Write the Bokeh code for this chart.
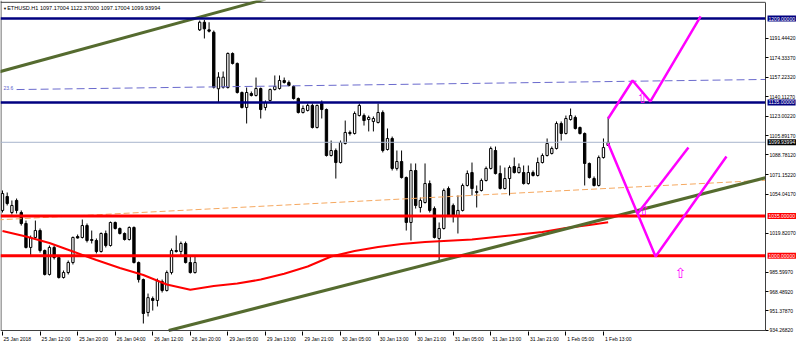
from bokeh.plotting import figure
from bokeh.models import Range1d, FixedTicker, Label
from bokeh.core.properties import value
from bokeh.embed import file_html
from bokeh.resources import INLINE

# ---------------- data ----------------
symbol_title = "ETHUSD.H1  1097.17004 1122.37000 1097.17004 1099.93994"

opens = [
    1039.9, 1052.2, 1038.1, 1048.7, 1038.1, 1028.4, 1007.3, 1016.1, 1022.2, 1004.6,
    983.5, 1007.3, 998.4, 980.8, 985.2, 994.0, 1016.9, 1016.1, 1026.6, 1013.4,
    1013.4, 1003.7, 1019.6, 1009.0, 1029.3, 1024.0, 1019.6, 1014.3, 1024.9, 994.0,
    979.0, 950.0, 962.3, 960.6, 977.3, 969.4, 985.2, 1004.6, 1003.7, 1010.8,
    994.0, 985.2, 1199.0, 1205.7, 1199.0, 1196.9, 1147.1, 1148.5, 1148.2, 1178.2,
    1169.4, 1143.8, 1130.6, 1142.9, 1141.2, 1147.3, 1130.6, 1136.8, 1146.4, 1147.3,
    1154.4, 1152.6, 1149.1, 1138.5, 1126.2, 1128.0, 1132.4, 1113.0, 1134.1, 1128.8,
    1088.3, 1092.7, 1082.1, 1098.9, 1108.6, 1107.7, 1123.5, 1123.5, 1120.0, 1118.3,
    1117.4, 1126.2, 1093.6, 1103.3, 1076.9, 1083.0, 1068.9, 1029.3, 1075.1, 1042.5,
    1046.9, 1063.6, 1041.6, 1015.2, 1024.0, 1059.2, 1044.3, 1035.4, 1039.9, 1061.9,
    1073.3, 1055.7, 1057.5, 1066.3, 1076.9, 1092.7, 1072.4, 1059.2, 1068.0, 1078.6,
    1073.3, 1073.3, 1063.6, 1073.3, 1070.7, 1082.1, 1088.3, 1090.1, 1094.5, 1116.5,
    1107.7, 1120.0, 1121.8, 1113.0, 1107.7, 1081.3, 1068.0, 1061.9, 1086.5, 1097.17,
]
highs = [
    1057.5, 1055.7, 1048.7, 1050.4, 1039.9, 1031.0, 1017.8, 1031.0, 1024.0, 1005.5,
    1009.0, 1009.0, 1000.2, 987.0, 995.8, 1016.9, 1018.7, 1031.9, 1028.4, 1022.2,
    1015.2, 1020.5, 1022.2, 1030.1, 1030.1, 1024.9, 1020.5, 1025.8, 1025.8, 994.9,
    979.9, 966.7, 964.1, 979.9, 979.0, 987.0, 1006.4, 1017.8, 1012.5, 1012.5,
    1000.2, 999.3, 1207.2, 1207.7, 1205.7, 1198.4, 1161.7, 1162.3, 1179.1, 1179.1,
    1170.2, 1144.7, 1148.2, 1144.7, 1157.0, 1148.2, 1136.8, 1147.3, 1158.8, 1158.8,
    1157.0, 1154.4, 1150.0, 1139.4, 1132.4, 1134.1, 1134.1, 1133.2, 1136.8, 1129.7,
    1101.5, 1094.5, 1101.5, 1119.1, 1110.3, 1127.1, 1134.1, 1125.3, 1123.5, 1122.7,
    1134.1, 1128.0, 1112.1, 1105.0, 1092.7, 1092.7, 1069.8, 1081.3, 1081.3, 1051.3,
    1081.3, 1066.3, 1043.4, 1029.3, 1059.2, 1061.0, 1046.0, 1053.1, 1063.6, 1075.1,
    1082.1, 1061.9, 1068.0, 1078.6, 1096.2, 1096.2, 1079.5, 1077.7, 1079.5, 1086.5,
    1081.3, 1079.5, 1079.5, 1075.1, 1086.5, 1090.1, 1103.3, 1096.2, 1118.3, 1118.3,
    1123.5, 1129.7, 1123.5, 1113.8, 1108.6, 1082.1, 1069.8, 1088.3, 1103.3, 1122.37,
]
lows = [
    1038.1, 1044.3, 1036.3, 1037.2, 1026.6, 1006.4, 999.3, 1015.2, 1002.8, 982.6,
    982.6, 996.7, 979.9, 979.9, 983.5, 992.3, 1015.2, 1015.2, 1011.7, 1010.8,
    1002.0, 1002.8, 1007.3, 1008.1, 1023.1, 1018.7, 1013.4, 1013.4, 993.2, 976.4,
    940.3, 946.5, 951.7, 955.3, 967.6, 968.5, 983.5, 1002.8, 1000.2, 993.2,
    984.3, 984.3, 1198.0, 1191.4, 1196.7, 1147.3, 1135.3, 1147.3, 1147.3, 1168.5,
    1142.9, 1129.7, 1116.5, 1140.3, 1140.3, 1120.9, 1128.0, 1135.9, 1145.6, 1146.4,
    1151.7, 1149.1, 1137.6, 1125.3, 1125.3, 1127.1, 1112.1, 1112.1, 1120.9, 1087.4,
    1087.4, 1068.0, 1081.3, 1098.0, 1105.9, 1106.8, 1122.7, 1114.7, 1109.5, 1109.5,
    1116.5, 1091.0, 1092.7, 1075.1, 1075.1, 1068.0, 1022.2, 1013.4, 1041.6, 1038.1,
    1046.0, 1038.1, 1015.2, 995.8, 1023.1, 1034.6, 1029.3, 1019.6, 1039.0, 1061.0,
    1053.1, 1042.5, 1056.6, 1065.4, 1076.0, 1071.6, 1058.4, 1058.4, 1053.1, 1072.4,
    1072.4, 1062.7, 1062.7, 1069.8, 1069.8, 1081.3, 1087.4, 1089.2, 1093.6, 1101.5,
    1106.8, 1119.1, 1111.2, 1106.8, 1061.9, 1068.0, 1061.0, 1061.0, 1085.6, 1097.17,
]
closes = [
    1054.8, 1046.0, 1044.3, 1039.9, 1028.4, 1007.3, 1016.1, 1022.2, 1004.6, 983.5,
    1007.3, 998.4, 980.8, 985.2, 994.0, 1016.1, 1015.6, 1026.6, 1013.4, 1014.3,
    1003.7, 1019.6, 1009.0, 1029.3, 1024.0, 1019.6, 1014.3, 1024.9, 994.0, 979.0,
    949.1, 963.1, 960.6, 978.2, 969.4, 985.2, 1004.6, 1003.7, 1010.8, 994.0,
    985.2, 994.0, 1205.7, 1199.9, 1197.8, 1148.5, 1157.3, 1157.3, 1178.2, 1169.4,
    1143.8, 1130.6, 1143.8, 1141.2, 1147.3, 1128.8, 1135.0, 1146.4, 1149.1, 1154.4,
    1152.6, 1150.0, 1138.5, 1126.2, 1129.7, 1132.4, 1113.0, 1132.4, 1128.8, 1088.3,
    1092.7, 1082.1, 1099.8, 1108.6, 1107.7, 1125.3, 1132.4, 1119.1, 1121.8, 1120.9,
    1126.2, 1092.7, 1103.3, 1076.9, 1083.0, 1068.9, 1029.3, 1075.1, 1044.3, 1048.7,
    1063.6, 1039.9, 1016.1, 1024.0, 1057.5, 1035.4, 1035.4, 1039.9, 1061.9, 1072.4,
    1059.2, 1056.6, 1066.3, 1076.9, 1094.5, 1072.4, 1059.2, 1068.0, 1077.7, 1073.3,
    1077.7, 1063.6, 1073.3, 1070.7, 1082.1, 1088.3, 1098.9, 1094.5, 1116.5, 1107.7,
    1120.9, 1123.5, 1112.1, 1107.7, 1081.3, 1068.9, 1061.9, 1086.5, 1095.3, 1099.94,
]

# moving average (red curve), sampled at bar indices
ma_bars = [0, 5, 10, 15, 20, 25, 30, 35, 40, 45, 50, 55, 60, 65, 70, 75, 80, 85,
           90, 95, 100, 105, 110, 115, 120, 125, 129]
ma_vals = [1021.8, 1016.9, 1011.2, 1003.7, 996.2, 989.2, 983.0, 974.7, 970.0, 973.3,
           975.5, 979.0, 984.1, 990.5, 999.3, 1004.2, 1007.7, 1010.3, 1012.1, 1013.2,
           1014.3, 1016.5, 1018.7, 1020.9, 1024.4, 1027.1, 1029.5]

# time axis labels (bar index -> text)
xlab_bars = [0, 8, 16, 24, 32, 40, 48, 56, 64, 72, 80, 88, 96, 104, 112, 120, 128]
xlab_text = ["25 Jan 2018", "25 Jan 12:00", "25 Jan 20:00", "26 Jan 04:00", "26 Jan 12:00",
             "26 Jan 20:00", "29 Jan 05:00", "29 Jan 13:00", "29 Jan 21:00", "30 Jan 05:00",
             "30 Jan 13:00", "30 Jan 21:00", "31 Jan 05:00", "31 Jan 13:00", "31 Jan 21:00",
             "1 Feb 05:00", "1 Feb 13:00"]

# price axis labels
ytick_vals = [1191.4442, 1174.3337, 1157.2232, 1140.1127, 1123.0022, 1105.8917, 1088.7812,
              1071.1522, 1054.0417, 1019.8207, 985.5997, 968.4892, 951.3787, 934.2682]

# horizontal levels
navy_levels = [1209.0, 1135.0]
red_levels = [1035.0, 1000.0]
current_price = 1099.93994

# highlighted price tags on the axis
tag_vals = [1209.0, 1135.0, 1099.93994, 1035.0, 1000.0]
tag_bg = ["#000080", "#000080", "#000000", "#ff0000", "#ff0000"]

# trend lines (bar index, price)
olive_up_x = [-1, 56]
olive_up_y = [1161.65, 1226.04]
olive_low_x = [35.4, 162.5]
olive_low_y = [934.13, 1068.7]
orange_x = [-1, 162.5]
orange_y = [1031.6, 1066.5]
fib_x = [3, 162.5]
fib_y = [1146.4, 1155.3]
fib_text = "23.6"
fib_text_pos = (0.2, 1148.2)

# magenta projections
mag_up_x = [129, 134.2, 138.0, 148.7]
mag_up_y = [1120.9, 1154.4, 1135.9, 1210.8]
mag_dn_x = [129, 139.1, 154.2]
mag_dn_y = [1098.9, 999.3, 1087.4]
mag_mid_x = [135.3, 146.1]
mag_mid_y = [1037.2, 1095.4]
arrow_x = [136.3, 136.6, 144.4]
arrow_y = [1139.4, 1039.9, 985.2]

# ---------------- layout ----------------
BAR_PX = 4.695          # pixels per bar
X_LEFT = -0.426         # left edge of the chart (bar units)
CHART_RIGHT = 162.5     # right edge of the chart area / price scale position
X_RIGHT = 169.97        # right edge of the window (bar units)
CHART_BOTTOM = 934.13   # bottom edge of the chart area / time scale position
Y_BOTTOM, Y_TOP = 921.80, 1224.86
FONT = "Liberation Sans"

p = figure(width=800, height=344, output_backend="svg", toolbar_location=None,
           x_range=Range1d(X_LEFT, X_RIGHT), y_range=Range1d(Y_BOTTOM, Y_TOP),
           y_axis_location="right", min_border_left=0, min_border_top=0,
           min_border_right=0, min_border_bottom=0)
p.grid.visible = False
p.background_fill_color = "white"
p.border_fill_color = "white"
p.outline_line_color = None

# chart frame (top and left edges)
p.segment(x0=[X_LEFT, X_LEFT + 0.1], y0=[Y_TOP - 1.6, Y_TOP], x1=[CHART_RIGHT, X_LEFT + 0.1],
          y1=[Y_TOP - 1.6, CHART_BOTTOM], line_color="#404040", line_width=1)

# candles
idx = list(range(len(opens)))
p.segment(x0=idx, y0=lows, x1=idx, y1=highs, line_color="black", line_width=1)
tops = [max(o, c) for o, c in zip(opens, closes)]
bots = [min(o, c) for o, c in zip(opens, closes)]
fills = ["white" if c >= o else "black" for o, c in zip(opens, closes)]
p.vbar(x=idx, width=0.5, top=tops, bottom=bots, fill_color=fills, line_color="black", line_width=1)

# moving average
p.line(ma_bars, ma_vals, line_color="#ff0000", line_width=2)

# trend lines
p.line(orange_x, orange_y, line_color="#f5a860", line_width=1, line_dash="6 3")
p.line(fib_x, fib_y, line_color="#6a6acd", line_width=1, line_dash="8 4")
p.line(olive_up_x, olive_up_y, line_color="#556b2f", line_width=3)
p.line(olive_low_x, olive_low_y, line_color="#556b2f", line_width=3)

# levels
n_nv, n_rd = len(navy_levels), len(red_levels)
p.segment(x0=[X_LEFT] * n_nv, x1=[CHART_RIGHT] * n_nv, y0=navy_levels, y1=navy_levels,
          line_color="#000080", line_width=2.5)
p.segment(x0=[X_LEFT] * n_rd, x1=[CHART_RIGHT] * n_rd, y0=red_levels, y1=red_levels,
          line_color="#ff0000", line_width=3)
p.segment(x0=[X_LEFT], x1=[CHART_RIGHT], y0=[current_price], y1=[current_price],
          line_color="#a7b4cc", line_width=1)

# magenta projections
p.line(mag_up_x, mag_up_y, line_color="#ff00ff", line_width=2.5)
p.line(mag_dn_x, mag_dn_y, line_color="#ff00ff", line_width=2.5)
p.line(mag_mid_x, mag_mid_y, line_color="#ff00ff", line_width=2.5)
p.text(x=arrow_x, y=arrow_y, text=["\u21e7"] * len(arrow_x), text_color="#ff00ff",
       text_font=value("DejaVu Sans"), text_font_size="14px",
       text_align="center", text_baseline="middle")

# texts inside chart
p.text(x=[fib_text_pos[0]], y=[fib_text_pos[1]], text=[fib_text], text_color="#5a5acd",
       text_font=value(FONT), text_font_size="5px", text_baseline="middle")
p.add_layout(Label(x=0.1, y=1217.9, text="\u25bc", text_font=FONT, text_font_size="4px",
                   text_baseline="middle", text_color="black"))
p.add_layout(Label(x=1.0, y=1217.9, text=symbol_title, text_font=FONT, text_font_size="5.5px",
                   text_baseline="middle", text_color="black"))

# x axis (time scale), fixed at the bottom edge of the chart area
xa = p.xaxis[0]
xa.fixed_location = CHART_BOTTOM
centers = [b + (1.5 + 2.42 * len(t) / 2) / BAR_PX for b, t in zip(xlab_bars, xlab_text)]
xa.ticker = FixedTicker(ticks=centers, minor_ticks=xlab_bars)
xa.major_label_overrides = {c: t for c, t in zip(centers, xlab_text)}
xa.bounds = (X_LEFT, CHART_RIGHT)
xa.major_tick_out = 0
xa.major_tick_in = 0
xa.minor_tick_out = 5
xa.minor_tick_in = -1
xa.minor_tick_line_color = "black"
xa.axis_line_color = "#404040"
xa.major_label_standoff = 0
xa.major_label_text_font = FONT
xa.major_label_text_font_size = "5px"
xa.major_label_text_color = "black"

# y axis (price scale), fixed at the right edge of the chart area
ya = p.yaxis[0]
ya.fixed_location = CHART_RIGHT
ya.ticker = FixedTicker(ticks=ytick_vals)
ya.major_label_overrides = {v: "%.5f" % v for v in ytick_vals}
ya.bounds = (CHART_BOTTOM, Y_TOP - 1.6)
ya.major_tick_out = 3
ya.major_tick_in = 0
ya.minor_tick_out = 0
ya.minor_tick_in = 0
ya.axis_line_color = "#404040"
ya.major_tick_line_color = "black"
ya.major_label_standoff = 1
ya.major_label_text_font = FONT
ya.major_label_text_font_size = "5px"
ya.major_label_text_color = "black"

# highlighted tags at the price scale
for v, bg in zip(tag_vals, tag_bg):
    p.add_layout(Label(x=CHART_RIGHT + 0.45, y=v, text="%.5f" % v, text_font=FONT,
                       text_font_size="5px", text_color="white", text_baseline="middle",
                       background_fill_color=bg, padding=1, level="overlay"))

open("out.html", "w").write(file_html(p, INLINE))
